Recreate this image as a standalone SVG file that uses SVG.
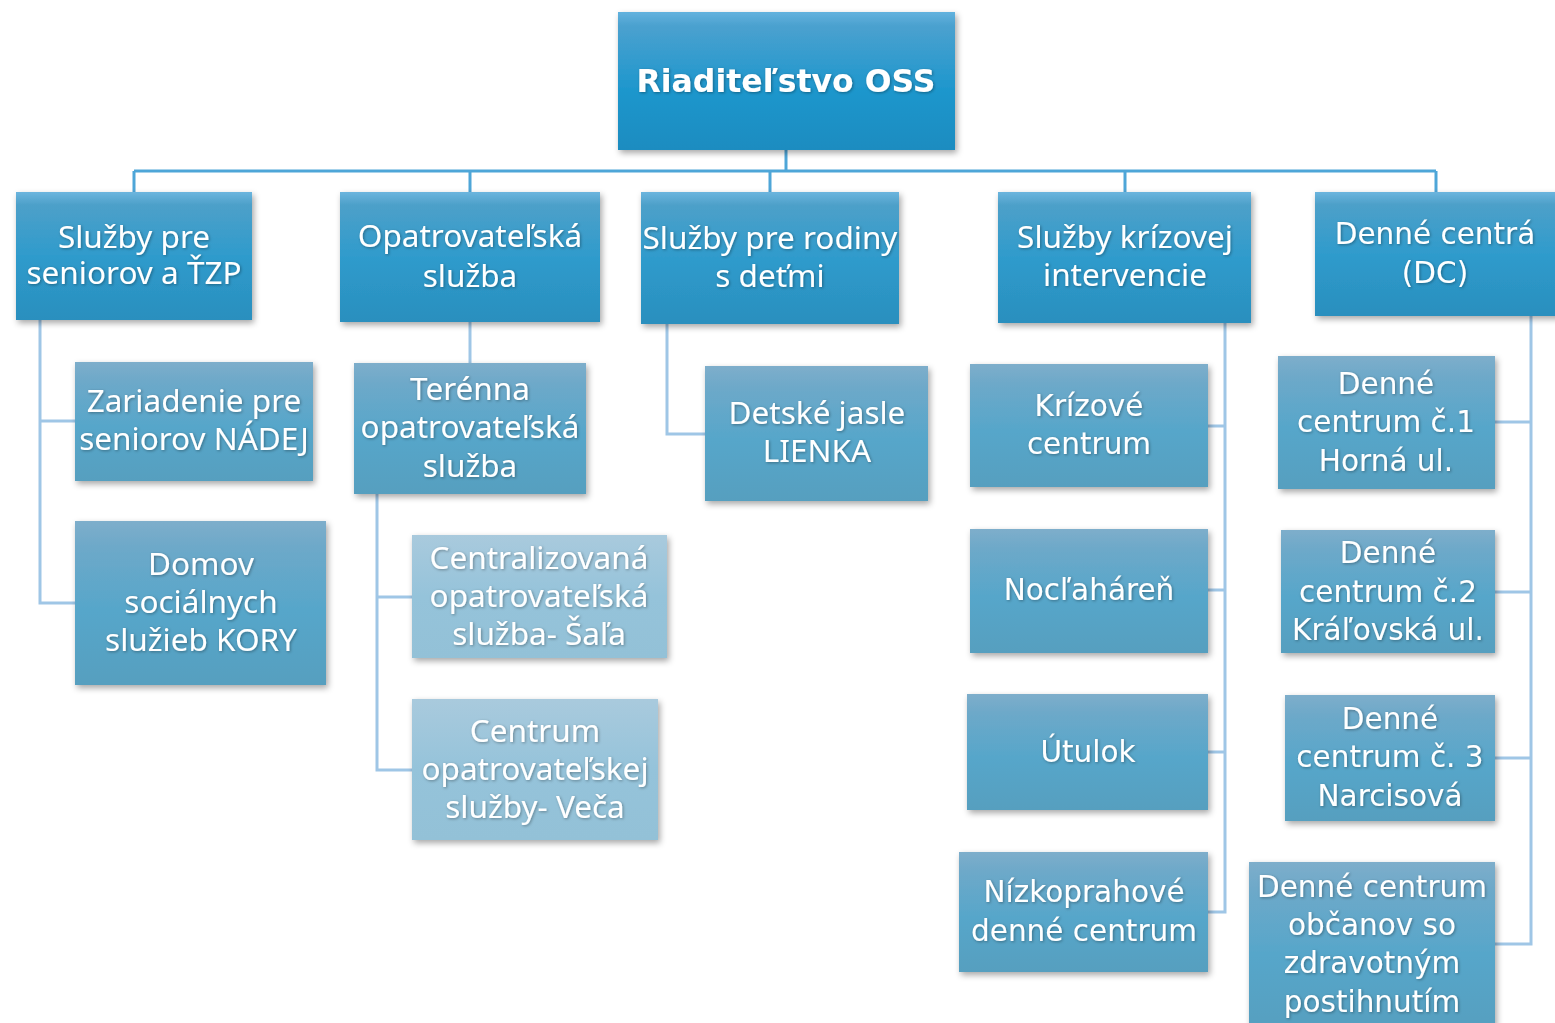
<svg xmlns="http://www.w3.org/2000/svg" width="1555" height="1023" viewBox="0 0 1555 1023">
<defs>
<linearGradient id="gTop" x1="0" y1="0" x2="0" y2="1">
<stop offset="0" stop-color="#62b2de"/><stop offset="0.1" stop-color="#4ba1cf"/><stop offset="0.55" stop-color="#1f97cd"/><stop offset="1" stop-color="#1a8cc0"/>
</linearGradient>
<linearGradient id="g1" x1="0" y1="0" x2="0" y2="1">
<stop offset="0" stop-color="#6cb5de"/><stop offset="0.1" stop-color="#4da0c9"/><stop offset="0.5" stop-color="#2f9bcc"/><stop offset="1" stop-color="#2a8fbe"/>
</linearGradient>
<linearGradient id="g2" x1="0" y1="0" x2="0" y2="1">
<stop offset="0" stop-color="#7eaecb"/><stop offset="0.15" stop-color="#6ea9c9"/><stop offset="0.55" stop-color="#56a6ca"/><stop offset="1" stop-color="#569fbf"/>
</linearGradient>
<linearGradient id="g3" x1="0" y1="0" x2="0" y2="1">
<stop offset="0" stop-color="#a9cadd"/><stop offset="0.5" stop-color="#95c3da"/><stop offset="1" stop-color="#93c1d7"/>
</linearGradient>
<filter id="sh" x="-10%" y="-10%" width="125%" height="130%">
<feDropShadow dx="2" dy="3" stdDeviation="3" flood-color="#000" flood-opacity="0.35"/>
</filter>
<filter id="ts" x="-5%" y="-20%" width="110%" height="140%">
<feDropShadow dx="1" dy="1" stdDeviation="1.5" flood-color="#000" flood-opacity="0.35"/>
</filter>
</defs>
<style>
.b0{fill:url(#gTop);filter:url(#sh)}
.b1{fill:url(#g1);filter:url(#sh)}
.b2{fill:url(#g2);filter:url(#sh)}
.b3{fill:url(#g3);filter:url(#sh)}
text{fill:#fff;text-anchor:middle;font-family:"Noto Sans","Open Sans",sans-serif;font-size:31.5px;filter:url(#ts)}
text.t0{font-family:"DejaVu Sans",sans-serif;font-weight:bold;font-size:31.5px}
text.w{font-family:"DejaVu Sans",sans-serif;font-size:29.5px}
.c1{fill:none;stroke:#4ea6d8;stroke-width:3}
.c2{fill:none;stroke:#9fc6e6;stroke-width:3}
</style>
<g id="connectors">
<path class="c1" d="M786 150V171M134 171H1436M134 171V192M470 171V192M770 171V192M1125 171V192M1436 171V192"/>
<path class="c2" d="M40 320V603H75M40 421H75"/>
<path class="c2" d="M470 322V363"/>
<path class="c2" d="M377 494V770H412M377 597H412"/>
<path class="c2" d="M667 324V434H705"/>
<path class="c2" d="M1225 323V912H1208M1225 426H1208M1225 590H1208M1225 752H1208"/>
<path class="c2" d="M1531 316V944H1495M1531 422H1495M1531 592H1495M1531 758H1495"/>
</g>
<g id="n-root"><rect class="b0" x="618" y="12" width="337" height="138"/><text class="t0" x="786" y="92">Riaditeľstvo OSS</text></g>
<g id="n-seniori"><rect class="b1" x="16" y="192" width="236" height="128"/><text x="134" y="248">Služby pre</text><text x="134" y="284">seniorov a ŤZP</text></g>
<g id="n-opatr"><rect class="b1" x="340" y="192" width="260" height="130"/><text x="470" y="247">Opatrovateľská</text><text x="470" y="287">služba</text></g>
<g id="n-rodiny"><rect class="b1" x="641" y="192" width="258" height="132"/><text x="770" y="249">Služby pre rodiny</text><text x="770" y="287">s deťmi</text></g>
<g id="n-krizova"><rect class="b1" x="998" y="192" width="253" height="131"/><text x="1125" y="248">Služby krízovej</text><text x="1125" y="286">intervencie</text></g>
<g id="n-dc"><rect class="b1" x="1315" y="192" width="245" height="124"/><text class="w" x="1435" y="244">Denné centrá</text><text class="w" x="1435" y="283">(DC)</text></g>
<g id="n-nadej"><rect class="b2" x="75" y="362" width="238" height="119"/><text x="194" y="412">Zariadenie pre</text><text x="194" y="450">seniorov NÁDEJ</text></g>
<g id="n-kory"><rect class="b2" x="75" y="521" width="251" height="164"/><text x="201" y="575">Domov</text><text x="201" y="613">sociálnych</text><text x="201" y="651">služieb KORY</text></g>
<g id="n-terenna"><rect class="b2" x="354" y="363" width="232" height="131"/><text x="470" y="400">Terénna</text><text x="470" y="438">opatrovateľská</text><text x="470" y="477">služba</text></g>
<g id="n-sala"><rect class="b3" x="412" y="535" width="255" height="123"/><text x="539" y="569">Centralizovaná</text><text x="539" y="607">opatrovateľská</text><text x="539" y="645">služba- Šaľa</text></g>
<g id="n-veca"><rect class="b3" x="412" y="699" width="246" height="141"/><text x="535" y="742">Centrum</text><text x="535" y="780">opatrovateľskej</text><text x="535" y="818">služby- Veča</text></g>
<g id="n-lienka"><rect class="b2" x="705" y="366" width="223" height="135"/><text x="817" y="424">Detské jasle</text><text x="817" y="462">LIENKA</text></g>
<g id="n-krizove"><rect class="b2" x="970" y="364" width="238" height="123"/><text class="w" x="1089" y="416">Krízové</text><text class="w" x="1089" y="454">centrum</text></g>
<g id="n-nocl"><rect class="b2" x="970" y="529" width="238" height="124"/><text class="w" x="1089" y="600">Nocľaháreň</text></g>
<g id="n-utulok"><rect class="b2" x="967" y="694" width="241" height="116"/><text class="w" x="1088" y="762">Útulok</text></g>
<g id="n-nizko"><rect class="b2" x="959" y="852" width="249" height="120"/><text class="w" x="1084" y="902">Nízkoprahové</text><text class="w" x="1084" y="941">denné centrum</text></g>
<g id="n-dc1"><rect class="b2" x="1278" y="356" width="217" height="133"/><text class="w" x="1386" y="394">Denné</text><text class="w" x="1386" y="432">centrum č.1</text><text class="w" x="1386" y="471">Horná ul.</text></g>
<g id="n-dc2"><rect class="b2" x="1281" y="530" width="214" height="123"/><text class="w" x="1388" y="563">Denné</text><text class="w" x="1388" y="602">centrum č.2</text><text class="w" x="1388" y="640">Kráľovská ul.</text></g>
<g id="n-dc3"><rect class="b2" x="1285" y="695" width="210" height="126"/><text class="w" x="1390" y="729">Denné</text><text class="w" x="1390" y="767">centrum č. 3</text><text class="w" x="1390" y="806">Narcisová</text></g>
<g id="n-dc4"><rect class="b2" x="1249" y="862" width="246" height="170"/><text class="w" x="1372" y="897">Denné centrum</text><text class="w" x="1372" y="935">občanov so</text><text class="w" x="1372" y="973">zdravotným</text><text class="w" x="1372" y="1012">postihnutím</text></g>
</svg>
